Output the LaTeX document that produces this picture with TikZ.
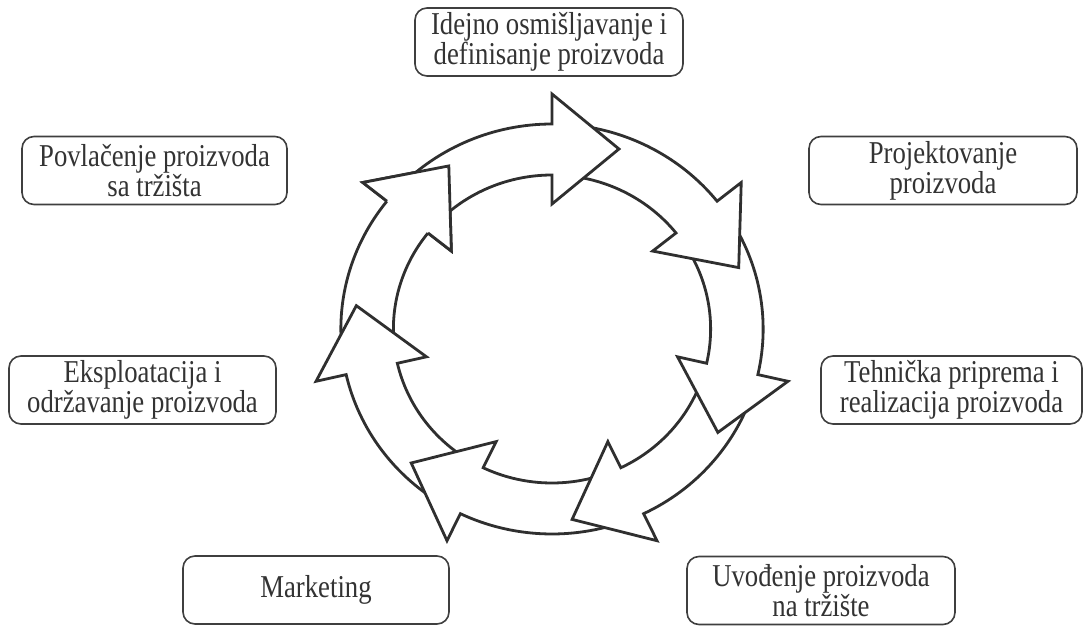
\documentclass[tikz,border=0pt]{standalone}
\usepackage{fontspec}
\setmainfont{Liberation Serif}[FakeStretch=0.84]
\definecolor{ringline}{HTML}{2F2F2F}
\definecolor{boxline}{HTML}{3F3F3F}
\definecolor{txt}{HTML}{333333}
\begin{document}
\begin{tikzpicture}[x=1pt,y=-1pt,
  stage/.style={draw=boxline, line width=1.6pt, rounded corners=12pt, fill=white,
    text=txt, align=center, inner sep=0pt, minimum height=68pt,
    font=\fontsize{31.8}{25.8}\selectfont},
  ring/.style={draw=ringline, line width=2.8pt, line join=miter}]
\useasboundingbox (0,0) rectangle (1083,626);

% seven process stages around the cycle
\node[stage, minimum width=268pt] (idea)    at (549,42)    {Idejno osmišljavanje i\\definisanje proizvoda};
\node[stage, minimum width=268pt] (design)  at (943,170.5) {Projektovanje\\proizvoda};
\node[stage, minimum width=261pt] (tech)    at (951.5,390) {Tehnička priprema i\\realizacija proizvoda};
\node[stage, minimum width=268pt] (launch)  at (821,590.5) {Uvođenje proizvoda\\na tržište};
\node[stage, minimum width=266pt] (market)  at (316,590)   {Marketing};
\node[stage, minimum width=267pt] (exploit) at (142.5,390) {Eksploatacija i\\održavanje proizvoda};
\node[stage, minimum width=265pt] (retire)  at (154.5,170.5) {Povlačenje proizvoda\\sa tržišta};

% ring of seven curved block arrows, clockwise
\begin{scope}[shift={(552,329)}, yscale=-1, xscale=1.03]
  % each arrow: body from just behind the previous head, ending in a triangular head
  \foreach \k in {6,5,...,0}{
    \pgfmathsetmacro\a{90-\k*360/7}
    \pgfmathsetmacro\s{\a+360/7-5}
    \pgfmathsetmacro\p{\a-19.86}
    \fill[white] (\s:205) arc[start angle=\s, end angle=\a, radius=205]
      -- (\a:235) -- (\p:191.4) -- (\a:125) -- (\a:154)
      arc[start angle=\a, end angle=\s, radius=154] -- cycle;
    \draw[ring] (\s:205) arc[start angle=\s, end angle=\a, radius=205]
      -- (\a:235) -- (\p:191.4) -- (\a:125) -- (\a:154)
      arc[start angle=\a, end angle=\s, radius=154];
  }
  % head of the last arrow laid over the tail of the first
  \pgfmathsetmacro\a{90-6*360/7}
  \pgfmathsetmacro\p{\a-19.86}
  \fill[white] (\a:235) -- (\p:191.4) -- (\a:125) -- cycle;
  \draw[ring] (\a:205) -- (\a:235) -- (\p:191.4) -- (\a:125) -- (\a:154);
\end{scope}
\end{tikzpicture}
\end{document}
